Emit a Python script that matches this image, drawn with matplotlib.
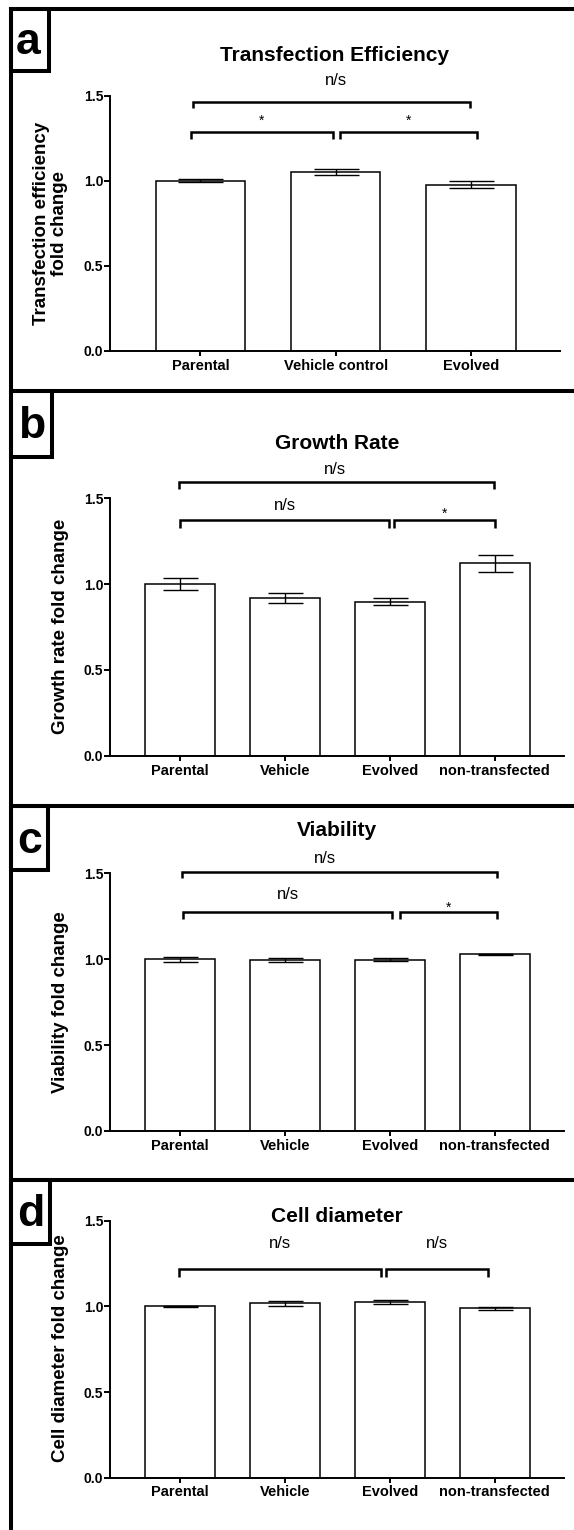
import matplotlib
matplotlib.use("Agg")
import matplotlib.pyplot as plt
from matplotlib.lines import Line2D
from matplotlib.patches import Rectangle
from matplotlib.transforms import offset_copy

plt.rcParams['font.family'] = ['Liberation Sans', 'DejaVu Sans']

W, H, DPI = 574, 1530, 100

# ---- data -------------------------------------------------------------
te_groups = ["Parental", "Vehicle control", "Evolved"]
te_mean = [1.000, 1.053, 0.977]
te_sem = [0.008, 0.018, 0.020]

gr_groups = ["Parental", "Vehicle", "Evolved", "non-transfected"]
gr_mean = [1.000, 0.920, 0.898, 1.122]
gr_sem = [0.037, 0.030, 0.019, 0.050]

vi_groups = ["Parental", "Vehicle", "Evolved", "non-transfected"]
vi_mean = [1.000, 0.996, 0.998, 1.028]
vi_sem = [0.015, 0.010, 0.007, 0.004]

cd_groups = ["Parental", "Vehicle", "Evolved", "non-transfected"]
cd_mean = [1.000, 1.018, 1.026, 0.989]
cd_sem = [0.004, 0.013, 0.011, 0.010]

y_ticks = [0.0, 0.5, 1.0, 1.5]
y_ticklabels = ["0.0", "0.5", "1.0", "1.5"]

# significance brackets: (from, to, bar level, tip level, text, text x, text y)
te_sig = [(-0.055, 1.996, 1.465, 1.426, "n/s", 1.00, 1.592),
          (-0.069, 0.981, 1.289, 1.244, "*", 0.45, 1.376),
          (1.030, 2.044, 1.289, 1.244, "*", 1.54, 1.376)]
gr_sig = [(-0.008, 2.995, 1.594, 1.554, "n/s", 1.48, 1.667),
          (0.000, 1.990, 1.373, 1.326, "n/s", 1.00, 1.457),
          (2.040, 3.000, 1.373, 1.326, "*", 2.52, 1.437)]
vi_sig = [(0.020, 3.020, 1.508, 1.473, "n/s", 1.38, 1.584),
          (0.027, 2.017, 1.273, 1.234, "n/s", 1.03, 1.376),
          (2.094, 3.020, 1.273, 1.234, "*", 2.56, 1.328)]
cd_sig = [(-0.015, 1.913, 1.217, 1.173, "n/s", 0.95, 1.368),
          (1.966, 2.933, 1.217, 1.173, "n/s", 2.45, 1.368)]

panels = [
    dict(letter="a", title="Transfection Efficiency",
         ylabel="Transfection efficiency\nfold change",
         groups=te_groups, mean=te_mean, sem=te_sem, sig=te_sig),
    dict(letter="b", title="Growth Rate", ylabel="Growth rate fold change",
         groups=gr_groups, mean=gr_mean, sem=gr_sem, sig=gr_sig),
    dict(letter="c", title="Viability", ylabel="Viability fold change",
         groups=vi_groups, mean=vi_mean, sem=vi_sem, sig=vi_sig),
    dict(letter="d", title="Cell diameter", ylabel="Cell diameter fold change",
         groups=cd_groups, mean=cd_mean, sem=cd_sem, sig=cd_sig),
]

# ---- layout (pixels) -------------------------------------------------
# axes box: left, right, y of 1.5, y of 0.0
axes_px = [(109.8, 560.0, 95.7, 351.0),
           (109.8, 563.7, 498.3, 755.8),
           (109.8, 563.7, 873.3, 1131.0),
           (109.8, 563.7, 1220.7, 1477.7)]
xlims = [(-0.67, 2.659), (-0.672, 3.66), (-0.672, 3.66), (-0.672, 3.66)]
bar_widths = [0.663, 0.668, 0.668, 0.668]
capsizes = [16.2, 12.6, 12.6, 12.6]
title_y = [55.3, 443.7, 830.3, 1217.0]
ylabel_xy = [(50.8, 223.0), (60.4, 626.0), (60.4, 1002.0), (60.4, 1348.0)]
panel_top = [8.5, 391.0, 806.0, 1180.0]
box_px = [(48.5, 71.0), (52.0, 457.0), (48.0, 870.0), (50.0, 1244.0)]
letter_xy = [(28.5, 43.0), (32.0, 427.0), (30.0, 841.0), (31.0, 1215.0)]
FRAME_X = 11.0
FRAME_LW = 2.9

fig = plt.figure(figsize=(W / DPI, H / DPI), dpi=DPI)
fig.patch.set_facecolor("white")


def fx(x):
    return x / W


def fy(y):
    return 1.0 - y / H


for i, p in enumerate(panels):
    left, right, top, bottom = axes_px[i]
    ax = fig.add_axes([fx(left), fy(bottom), (right - left) / W, (bottom - top) / H])
    pos = list(range(len(p["groups"])))
    ax.bar(pos, p["mean"], width=bar_widths[i], color="white",
           edgecolor="black", linewidth=1.1, zorder=2)
    ax.errorbar(pos, p["mean"], yerr=p["sem"], fmt="none", ecolor="black",
                elinewidth=1.0, capsize=capsizes[i], capthick=1.0, zorder=3)
    ax.set_xlim(*xlims[i])
    ax.set_ylim(0, 1.5)
    ax.set_yticks(y_ticks)
    ax.set_yticklabels(y_ticklabels)
    ax.set_xticks(pos)
    ax.set_xticklabels(p["groups"])
    for s in ("top", "right"):
        ax.spines[s].set_visible(False)
    for s in ("left", "bottom"):
        ax.spines[s].set_linewidth(1.4)
    ax.tick_params(axis="y", direction="out", length=4.2, width=1.4, pad=0.6,
                   labelsize=10)
    ax.tick_params(axis="x", direction="out", length=3.6, width=1.4, pad=2.0,
                   labelsize=10.5)
    for lab in ax.get_xticklabels() + ax.get_yticklabels():
        lab.set_fontweight("bold")

    for (x1, x2, yb, yt, txt, tx, ty) in p["sig"]:
        ax.plot([x1, x1, x2, x2], [yt, yb, yb, yt], color="black", lw=1.8,
                clip_on=False, solid_joinstyle="miter", solid_capstyle="butt")
        if txt == "*":
            fs = 10
            tr = offset_copy(ax.transData, fig=fig, y=-0.32 * fs, units="points")
        else:
            fs = 12
            tr = ax.transData
        ax.text(tx, ty, txt, ha="center", va="center", fontsize=fs,
                transform=tr, clip_on=False)

    # title and y label
    fig.text(fx((left + right) / 2), fy(title_y[i]), p["title"], ha="center",
             va="center", fontsize=15, fontweight="bold")
    lx, ly = ylabel_xy[i]
    fig.text(fx(lx), fy(ly), p["ylabel"], rotation=90, ha="center",
             va="center", fontsize=13.5, fontweight="bold", linespacing=1.08,
             multialignment="center")

    # panel frame line and letter box
    fig.add_artist(Line2D([fx(FRAME_X - 2), fx(W)], [fy(panel_top[i])] * 2,
                          transform=fig.transFigure, color="black",
                          lw=FRAME_LW, solid_capstyle="butt"))
    bx, by = box_px[i]
    fig.add_artist(Rectangle((fx(FRAME_X), fy(by)), (bx - FRAME_X) / W,
                             (by - panel_top[i]) / H, transform=fig.transFigure,
                             fill=False, edgecolor="black", lw=FRAME_LW))
    lxx, lyy = letter_xy[i]
    fig.text(fx(lxx), fy(lyy), p["letter"], ha="center", va="center",
             fontsize=32, fontweight="bold")

# left frame edge running the full height
fig.add_artist(Line2D([fx(FRAME_X), fx(FRAME_X)], [fy(panel_top[0] - 1.5), fy(H)],
                      transform=fig.transFigure, color="black", lw=FRAME_LW,
                      solid_capstyle="butt"))

fig.savefig("out.png", dpi=DPI, facecolor="white")
